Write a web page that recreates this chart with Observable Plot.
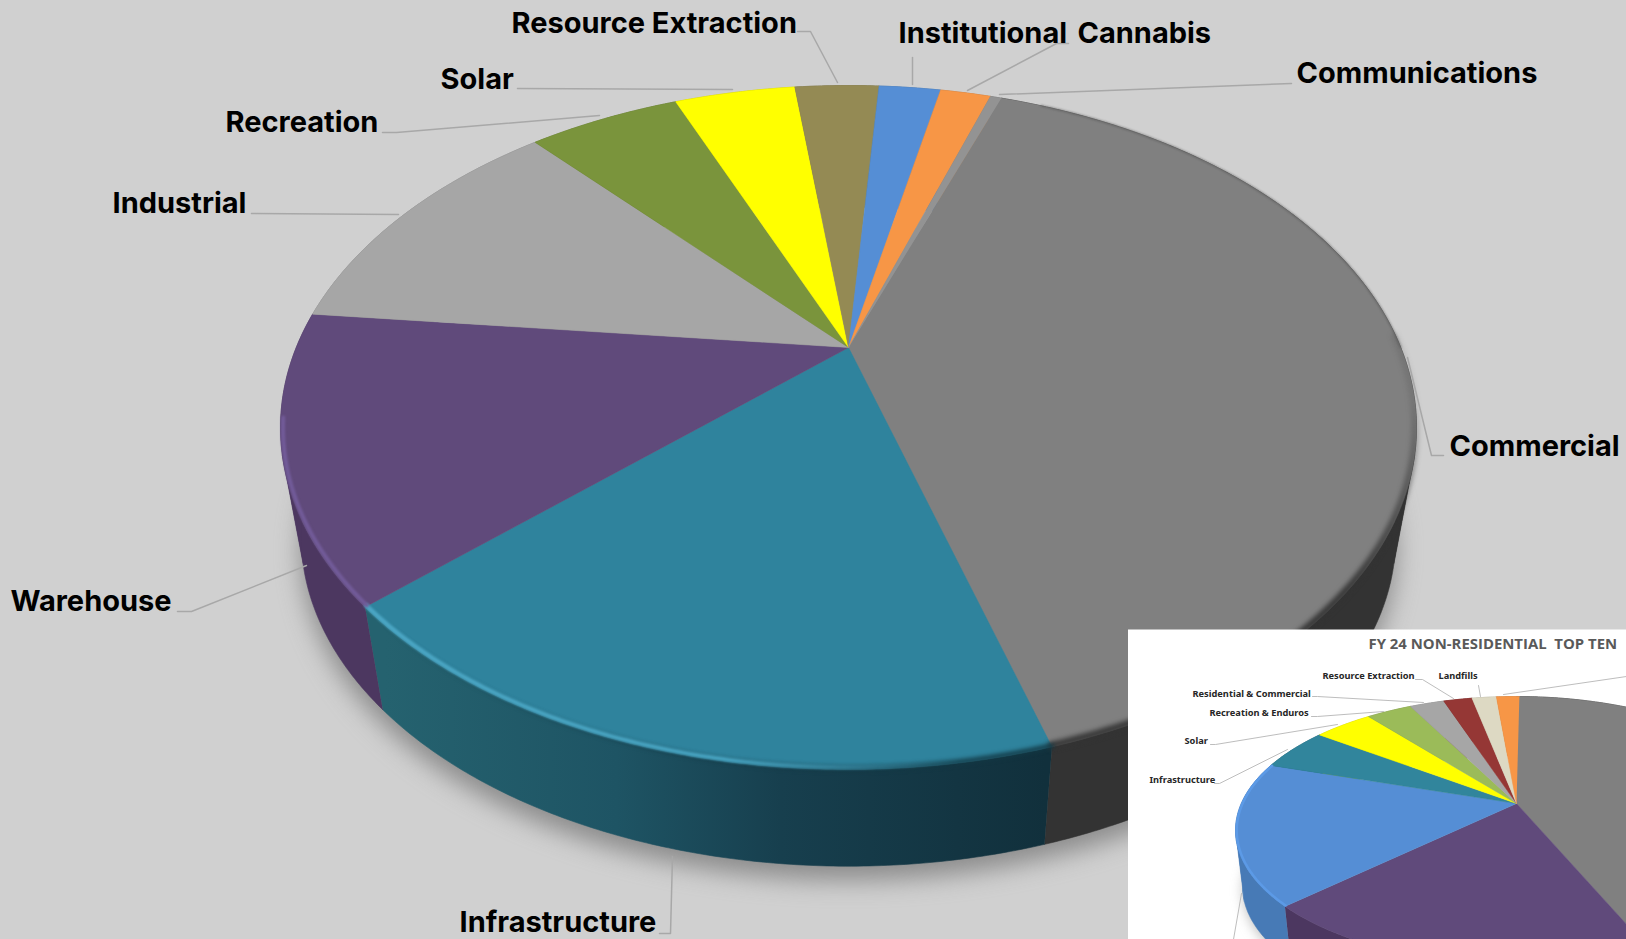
<!DOCTYPE html>
<html>
<head>
<meta charset="utf-8">
<script src="https://cdn.jsdelivr.net/npm/d3@7"></script>
<script src="https://cdn.jsdelivr.net/npm/@observablehq/plot@0.6"></script>
<style>
html,body{margin:0;padding:0;background:#d0d0d0;overflow:hidden}
svg{display:block}
</style>
</head>
<body>
<div id="chart"></div>
<script>
// ---- main pie data (share of total, clockwise from Commercial)
const mainCategories = ["Commercial","Infrastructure","Warehouse","Industrial","Recreation","Solar","Resource Extraction","Institutional","Cannabis","Communications"];
const mainShares = [39.9,17.8,13.5,11.7,5.4,4.3,3.0,2.2,1.8,0.4];
const mainColors = ["#808080","#2f839d","#604a7b","#a6a6a6","#7a943c","#ffff00","#948a54","#558ed5","#f79646","#939393"];
const mainWalls  = ["#333333","url(#tealWall)","#4c3760","#808080","#5c702d","#c0c000","#6f683f","#406ba0","#b97135","#6e6e6e"];

// ---- inset pie data
const insetCategories = ["Commercial","Warehouse","Agriculture","Infrastructure","Solar","Recreation & Enduros","Residential & Commercial","Resource Extraction","Landfills","Institutional"];
const insetShares = [43.6,19.3,17.2,5.1,4.1,3.2,2.4,2.0,1.7,1.6];
const insetColors = ["#808080","#604a7b","#558ed5","#31859c","#ffff00","#9bbb59","#a6a6a6","#953735","#ddd9c3","#f79646"];
const insetWalls  = ["#333333","#4c3760","#477ab6","#24606f","#c0c000","#738b42","#808080","#6e2827","#a5a292","#b97135"];

// ---- layout
const W = 1626, H = 939;
const mainGeom = {cx:848, cy:427, rx:568, ry:342, apexY:347, f:0.9635, vy:3418, start:19.75};
const insetGeom = {cx:1516, cy:830, rx:281, ry:134, apexY:803, f:0.975, vy:3070, start:0};
const silhouetteAngles = [108, 252];

const mainLabels = [
  {t:"Resource Extraction",x:511,y:23},{t:"Institutional",x:898,y:33},{t:"Cannabis",x:1077,y:33},
  {t:"Communications",x:1296,y:73.5},{t:"Commercial",x:1449,y:446},{t:"Solar",x:440,y:79.5},
  {t:"Recreation",x:225,y:122},{t:"Industrial",x:112,y:203},{t:"Warehouse",x:10,y:601.5},{t:"Infrastructure",x:459,y:922}
];
const mainLeaders = [
  [[797,31],[810,31],[837,82]],[[912,57],[912,84]],[[1068,43],[1056,43],[967,90]],
  [[1291,83],[999,94]],[[1443,455],[1431,455],[1407,357]],[[517,88],[732,89]],
  [[382,132],[396,132],[599,115]],[[251,213],[398,214]],[[177,611],[191,611],[306,565]],
  [[659,933],[670,933],[672,856]]
];
const insetLabels = [
  {t:"Resource Extraction",x:1322,y:676},{t:"Landfills",x:1438,y:676},{t:"Residential & Commercial",x:1192,y:693.5},
  {t:"Recreation & Enduros",x:1209,y:713},{t:"Solar",x:1184,y:741},{t:"Infrastructure",x:1149,y:780}
];
const insetLeaders = [
  [[1415,679],[1422,679],[1453,698]],[[1478,685],[1480,696]],[[1312,696],[1317,696],[1423,702]],
  [[1311,716],[1317,716],[1383,711]],[[1210,744],[1215,744],[1337,724]],[[1214,783],[1219,783],[1287,749]],
  [[1503,694],[1626,676]],[[1241,893],[1233,939]]
];

// perspective mapping of a circular pie onto the picture
function rimPoint(g, deg, lower){
  const a = (g.apexY - g.cy) / g.ry, s = Math.sqrt(1 - a*a);
  const t = deg * Math.PI/180, u = Math.sin(t), v = -Math.cos(t), d = 1 + a*v;
  let X = g.cx + g.rx * u*s/d, Y = g.cy + g.ry * (v+a)/d;
  if (lower){ X = g.cx + g.f*(X-g.cx); Y = g.vy + g.f*(Y-g.vy); }
  return [X,Y];
}
function arc(g, a0, a1, lower){
  const n = Math.max(2, Math.ceil(Math.abs(a1-a0)/0.5));
  return d3.range(n+1).map(i => rimPoint(g, a0 + (a1-a0)*i/n, lower));
}
function slices(g, shares){
  let acc = g.start;
  return shares.map(v => { const a0 = acc; acc += v*3.6; return [a0, acc]; });
}
const poly = (pts, o) => Plot.line(pts, {x:d=>d[0], y:d=>d[1], stroke:"none", ...o});
const path = (pts, o) => Plot.line(pts, {x:d=>d[0], y:d=>d[1], fill:"none", ...o});

// a slice's wall, cut where the cylinder's outline runs so that the outline is filled
function wallPieces(a0, a1){
  const cuts = [a0, ...silhouetteAngles.filter(s => s > a0 && s < a1), a1];
  return d3.pairs(cuts);
}
function pieMarks(g, shares, colors, walls){
  const sl = slices(g, shares);
  const apex = [g.cx, g.apexY];
  const out = [];
  sl.forEach(([a0,a1],i) => wallPieces(a0,a1).forEach(([b0,b1]) =>
    out.push(poly([...arc(g,b0,b1,false), ...arc(g,b1,b0,true)], {fill:walls[i], stroke:walls[i], strokeWidth:0.6}))));
  sl.forEach(([a0,a1],i) => out.push(poly([apex, ...arc(g,a0,a1,false)], {fill:colors[i], stroke:colors[i], strokeWidth:0.5})));
  return {marks:out, sl};
}

const mainPie = pieMarks(mainGeom, mainShares, mainColors, mainWalls);
const insetPie = pieMarks(insetGeom, insetShares, insetColors, insetWalls);
const ms = mainPie.sl, is = insetPie.sl;

const defs = () => {
  const el = document.createElementNS("http://www.w3.org/2000/svg","defs");
  el.innerHTML = `
  <linearGradient id="tealWall" gradientUnits="userSpaceOnUse" x1="385" x2="1045" y1="0" y2="0">
    <stop offset="0" stop-color="#25626f"/><stop offset="0.35" stop-color="#1e5464"/>
    <stop offset="0.6" stop-color="#173f4e"/><stop offset="1" stop-color="#11303c"/></linearGradient>
  <linearGradient id="tealHi" gradientUnits="userSpaceOnUse" x1="370" x2="960" y1="0" y2="0">
    <stop offset="0" stop-color="#4ba6c4"/><stop offset="0.6" stop-color="#45a0bd"/>
    <stop offset="1" stop-color="#45a0bd" stop-opacity="0"/></linearGradient>
  <linearGradient id="tealDark" gradientUnits="userSpaceOnUse" x1="380" x2="1050" y1="0" y2="0">
    <stop offset="0" stop-color="#123844" stop-opacity="0"/><stop offset="0.45" stop-color="#123844" stop-opacity=".7"/>
    <stop offset="1" stop-color="#123844"/></linearGradient>
  <linearGradient id="grayDark" gradientUnits="userSpaceOnUse" x1="0" x2="0" y1="400" y2="590">
    <stop offset="0" stop-color="#333" stop-opacity="0.15"/><stop offset="1" stop-color="#333" stop-opacity="1"/></linearGradient>`;
  return el;
};

const inner = (g,d) => ({...g, rx:g.rx-d, ry:g.ry-d});
const rimLine = (g,a0,a1,o) => path(arc(g,a0,a1,false), o);
const lowerEllipse = (g,dy) => arc(g,0,360,true).map(([x,y])=>[x,y+dy]);
const lead = (list) => list.flatMap((l,i)=>l.map(p=>({x:p[0],y:p[1],z:i})));

const plot = Plot.plot({
  width:W, height:H, margin:0,
  x:{type:"identity", axis:null}, y:{type:"identity", axis:null},
  style:{background:"#d0d0d0", overflow:"hidden"},
  marks:[
    defs,
    // main pie
    poly(lowerEllipse(mainGeom,14), {fill:"#7a7a7a", fillOpacity:0.8, imageFilter:"blur(12px)"}),
    ...mainPie.marks,
    // bevel on the rim
    rimLine(mainGeom, 25, 90, {stroke:"#555", strokeWidth:1.4, strokeOpacity:0.75, imageFilter:"blur(0.8px)"}),
    rimLine(inner(mainGeom,1.5), 88, ms[0][1], {stroke:"url(#grayDark)", strokeWidth:7, imageFilter:"blur(2.5px)"}),
    rimLine(inner(mainGeom,1), ms[1][0], ms[1][1], {stroke:"url(#tealDark)", strokeWidth:5, imageFilter:"blur(2px)"}),
    rimLine(inner(mainGeom,2), ms[1][0], ms[1][1], {stroke:"url(#tealHi)", strokeWidth:4.5, imageFilter:"blur(1.2px)"}),
    rimLine(inner(mainGeom,2.5), ms[2][0], 258, {stroke:"#725b99", strokeWidth:4, imageFilter:"blur(1.2px)"}),
    // leaders and labels
    Plot.line(lead(mainLeaders), {x:"x", y:"y", z:"z", stroke:"#a8a8a8", strokeWidth:1.5}),
    Plot.text(mainLabels, {x:"x", y:"y", text:"t", textAnchor:"start", lineAnchor:"middle", fill:"#000",
      fontFamily:"Inter", fontWeight:700, fontSize:29}),
    // inset
    Plot.rect([{}], {x1:()=>1128, x2:()=>W, y1:()=>629.5, y2:()=>H, fill:"#fff"}),
    poly(lowerEllipse(insetGeom,4), {fill:"#8a8a8a", fillOpacity:0.5, imageFilter:"blur(6px)"}),
    ...insetPie.marks,
    rimLine(inner(insetGeom,1.2), is[2][0], is[2][1], {stroke:"#5c9ae6", strokeWidth:2.5, imageFilter:"blur(0.7px)"}),
    Plot.line(lead(insetLeaders), {x:"x", y:"y", z:"z", stroke:"#b5b5b5", strokeWidth:0.9}),
    Plot.text(insetLabels, {x:"x", y:"y", text:"t", textAnchor:"start", lineAnchor:"middle", fill:"#262626",
      fontFamily:"Noto Sans", fontWeight:700, fontSize:9.25}),
    Plot.text(["FY 24 NON-RESIDENTIAL\u00a0 TOP TEN"], {x:()=>1368, y:()=>644, text:d=>d, textAnchor:"start", lineAnchor:"middle",
      fill:"#595959", fontFamily:"Open Sans", fontWeight:700, fontSize:14.9})
  ]
});
document.getElementById("chart").append(plot);
</script>
</body>
</html>
